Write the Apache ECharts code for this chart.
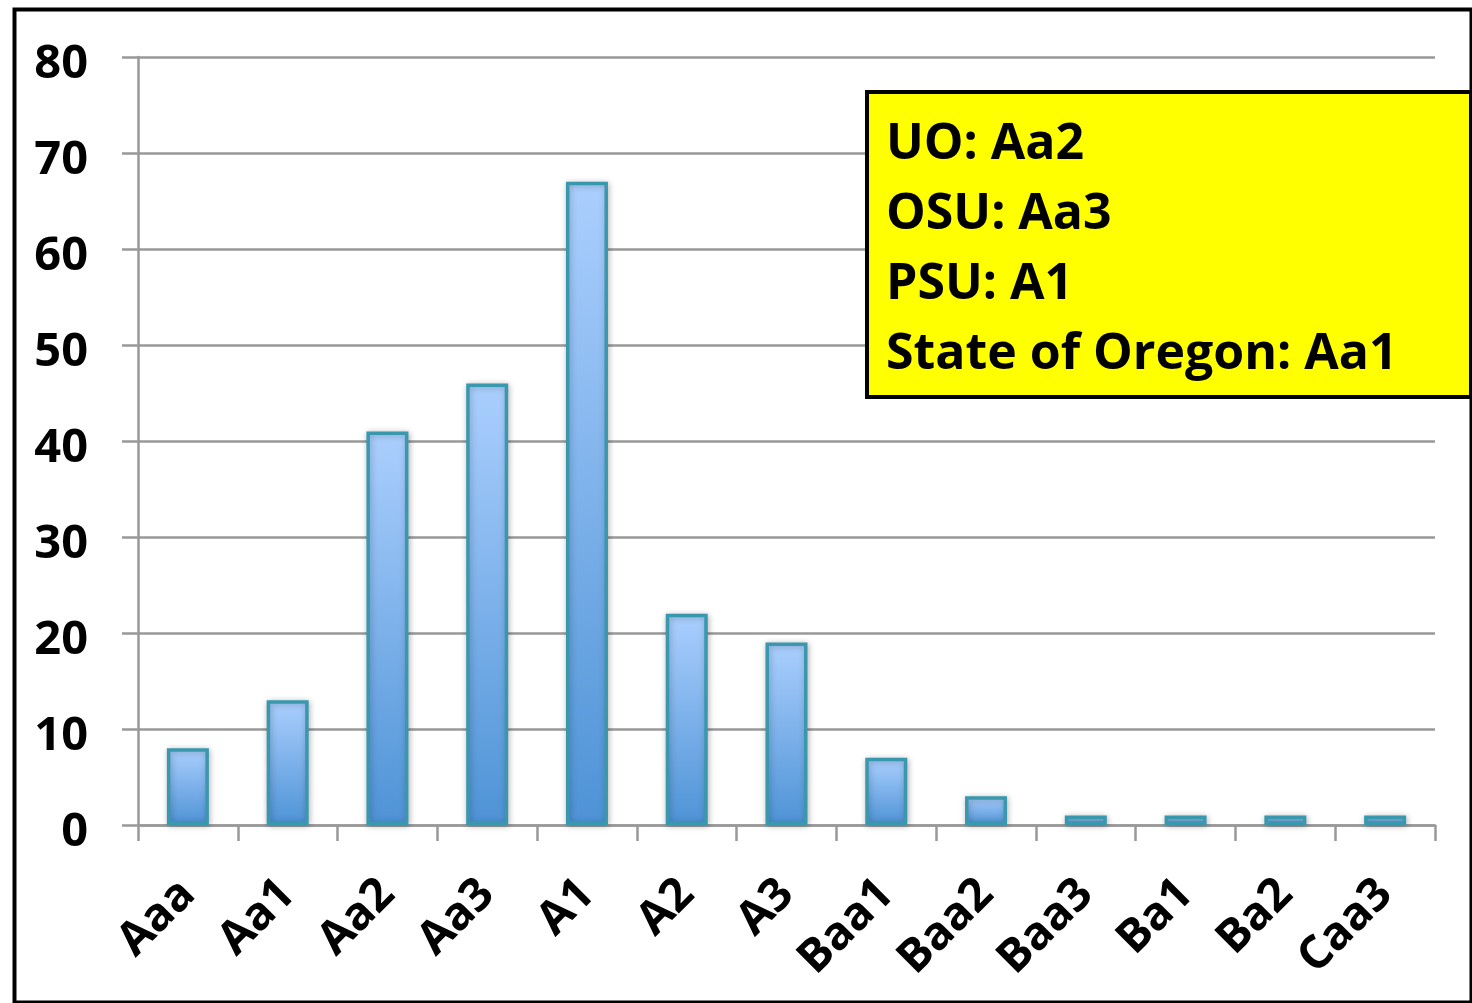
<!DOCTYPE html>
<html>
<head>
<meta charset="utf-8">
<script src="https://cdn.jsdelivr.net/npm/echarts@6/dist/echarts.min.js"></script>
<style>
  html, body { margin: 0; padding: 0; background: #fff; }
  #main { width: 1472px; height: 1003px; }
</style>
</head>
<body>
<div id="main"></div>
<script>
// ratings and number of issuers per rating
const categories = ['Aaa', 'Aa1', 'Aa2', 'Aa3', 'A1', 'A2', 'A3', 'Baa1', 'Baa2', 'Baa3', 'Ba1', 'Ba2', 'Caa3'];
const counts = [8, 13, 41, 46, 67, 22, 19, 7, 3, 1, 1, 1, 1];
const noteLines = ['UO: Aa2', 'OSU: Aa3', 'PSU: A1', 'State of Oregon: Aa1'];

const FONT = '"Open Sans"';
let chart = echarts.init(document.getElementById('main'));

let option = {
    backgroundColor: '#fff',
    animation: false,
    grid: { left: 138, right: 37, top: 57, bottom: 178 },
    xAxis: {
        type: 'category',
        data: categories,
        axisLine: { lineStyle: { color: '#999', width: 2.5 } },
        axisTick: { show: true, length: 16, lineStyle: { color: '#999', width: 2.5 } },
        axisLabel: {
            rotate: 45,
            margin: 62,
            color: '#000',
            fontFamily: FONT,
            fontWeight: 'bold',
            fontSize: 46,
            interval: 0
        }
    },
    yAxis: {
        type: 'value',
        min: 0,
        max: 80,
        interval: 10,
        axisLine: { show: true, lineStyle: { color: '#999', width: 2.5 } },
        axisTick: { show: true, length: 16, lineStyle: { color: '#999', width: 2.5 } },
        splitLine: { lineStyle: { color: '#999', width: 2.5 } },
        axisLabel: {
            margin: 50,
            color: '#000',
            fontFamily: FONT,
            fontWeight: 'bold',
            fontSize: 47,
            verticalAlign: 'top',
            lineHeight: 16
        }
    },
    series: [{
        type: 'bar',
        data: counts,
        barWidth: 42,
        itemStyle: {
            color: new echarts.graphic.LinearGradient(0, 0, 0, 1, [
                { offset: 0, color: '#abcffe' },
                { offset: 1, color: '#4e93d6' }
            ]),
            borderColor: '#3a98ae',
            borderWidth: 3.5,
            shadowColor: 'rgba(0,0,0,0.25)',
            shadowBlur: 6,
            shadowOffsetX: 1,
            shadowOffsetY: 1
        }
    }],
    graphic: [
        {
            type: 'rect',
            left: 12,
            top: 7,
            z: 100,
            shape: { width: 1457, height: 993 },
            style: { fill: 'none', stroke: '#000', lineWidth: 4 }
        },
        {
            type: 'rect',
            left: 865,
            top: 90,
            z: 100,
            shape: { width: 604, height: 305 },
            style: { fill: '#ffff00', stroke: '#000', lineWidth: 4 }
        },
        {
            type: 'text',
            left: 886,
            top: 110,
            z: 101,
            style: {
                text: noteLines.join('\n'),
                fill: '#000',
                font: 'bold 50px ' + FONT,
                lineHeight: 70
            }
        }
    ]
};
chart.setOption(option);
</script>
</body>
</html>
